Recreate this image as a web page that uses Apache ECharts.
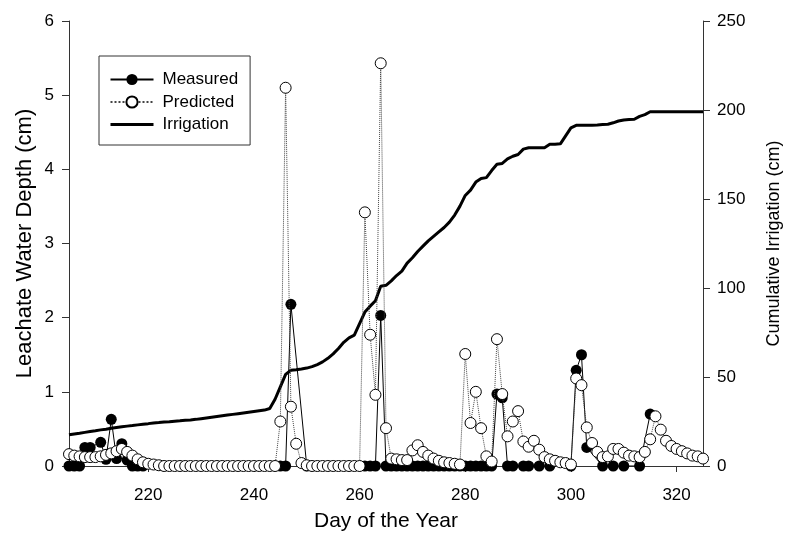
<!DOCTYPE html>
<html>
<head>
<meta charset="utf-8">
<script src="https://cdn.jsdelivr.net/npm/echarts@6/dist/echarts.min.js"></script>
<style>
  html, body { margin: 0; padding: 0; background: #fff; }
  #chart { width: 785px; height: 540px; }
</style>
</head>
<body>
<div id="chart"></div>
<script>
// first day of the daily series (day of the year)
let startDay = 205;

// predicted leachate depth (cm), one value per day from 205 to 325
let predicted = [
    0.16, 0.14, 0.13, 0.12, 0.12, 0.12, 0.13, 0.15, 0.17, 0.20,
    0.23, 0.19, 0.14, 0.09, 0.05, 0.03, 0.02, 0.01, 0, 0,
    0, 0, 0, 0, 0, 0, 0, 0, 0, 0,
    0, 0, 0, 0, 0, 0, 0, 0, 0, 0,
    0.60, 5.10, 0.80, 0.30, 0.04, 0.01, 0, 0, 0, 0,
    0, 0, 0, 0, 0, 0, 3.42, 1.77, 0.96, 5.43,
    0.51, 0.10, 0.09, 0.08, 0.08, 0.21, 0.28, 0.19, 0.14, 0.10,
    0.07, 0.05, 0.04, 0.03, 0.02, 1.51, 0.58, 1.00, 0.51, 0.13,
    0.06, 1.71, 0.97, 0.40, 0.60, 0.74, 0.33, 0.26, 0.34, 0.22,
    0.12, 0.09, 0.07, 0.05, 0.04, 0.02, 1.18, 1.09, 0.52, 0.31,
    0.19, 0.12, 0.13, 0.23, 0.23, 0.18, 0.14, 0.13, 0.12, 0.19,
    0.36, 0.67, 0.49, 0.34, 0.27, 0.23, 0.20, 0.17, 0.14, 0.13,
    0.10
];

// cumulative irrigation (cm), one value per day from 205 to 325
let irrigation = [
    17.5, 18.0, 18.4, 18.9, 19.4, 19.8, 20.3, 20.7, 21.2, 21.6,
    22.0, 22.4, 22.7, 23.1, 23.5, 23.8, 24.2, 24.4, 24.7, 24.9,
    25.2, 25.4, 25.7, 25.9, 26.2, 26.6, 27.0, 27.4, 27.8, 28.2,
    28.6, 29.0, 29.4, 29.8, 30.2, 30.6, 31.0, 31.4, 32.3, 37.5,
    44.5, 51.5, 53.8, 54.1, 54.5, 55.0, 55.8, 57.0, 58.5, 60.5,
    63.0, 66.0, 69.5, 72.0, 73.5, 80.0, 86.5, 89.8, 92.8, 101.0,
    101.5, 104.0, 107.0, 109.5, 114.0, 117.0, 120.5, 123.5, 126.5, 129.0,
    131.5, 134.0, 137.0, 141.0, 146.0, 152.0, 155.0, 159.5, 161.5, 162.0,
    166.0, 169.5, 170.0, 172.5, 174.0, 175.0, 178.0, 178.8, 178.8, 178.8,
    178.8, 180.7, 180.7, 181.0, 185.5, 190.0, 191.4, 191.5, 191.5, 191.5,
    191.6, 191.8, 192.0, 192.8, 193.8, 194.4, 194.6, 194.8, 196.4, 197.4,
    199, 199, 199, 199, 199, 199, 199, 199, 199, 199,
    199
];

// measured leachate depth, sampled on these days only
let measuredDays = [
    205, 206, 207, 208, 209, 211, 212, 213, 214, 215, 216, 217, 218, 219,
    245, 246, 247, 250,
    261, 262, 263, 264, 265, 266, 267, 268, 269, 270, 271, 272, 273, 274,
    275, 276, 277, 278, 279, 280, 281, 282, 283, 284, 285, 286, 287, 288,
    289, 291, 292, 294, 296, 300, 301, 302, 303, 306, 308, 310, 313, 315
];
let measuredValues = [
    0, 0, 0, 0.25, 0.25, 0.32, 0.09, 0.63, 0.10, 0.30, 0.08, 0, 0, 0,
    0, 0, 2.18, 0,
    0, 0, 0, 2.03, 0, 0, 0, 0, 0, 0, 0, 0, 0, 0,
    0, 0, 0, 0, 0, 0, 0, 0, 0, 0, 0, 0.97, 0.92, 0,
    0, 0, 0, 0, 0, 0, 1.29, 1.50, 0.25, 0, 0, 0, 0, 0.70
];

// x axis tick labels
let dayTicks = [220, 240, 260, 280, 300, 320];

let font = 'Liberation Sans, Arial, sans-serif';

function pairs(xs, ys){
    let out = [];
    for(let i = 0;i<ys.length;i++){
        out.push([xs[i], ys[i]]);
    }
    return out;
}

let days = [];
for(let i = 0;i<predicted.length;i++){
    days.push(startDay + i);
}

let myChart = echarts.init(document.getElementById('chart'));

let option = {
    animation: false,
    backgroundColor: '#fff',
    textStyle: { fontFamily: font, color: '#000' },
    grid: { left: 69, right: 82, top: 21, bottom: 74, containLabel: false, outerBoundsMode: 'none' },
    legend: {
        orient: 'vertical',
        left: 99,
        top: 56,
        padding: [15, 12, 12, 10],
        itemWidth: 43,
        itemHeight: 14,
        itemGap: 5.5,
        borderColor: '#333',
        borderWidth: 1,
        textStyle: { fontFamily: font, fontSize: 17, color: '#000', padding: [0, 0, 0, 4] },
        data: [
            'Measured',
            'Predicted',
            { name: 'Irrigation', itemStyle: { opacity: 0 }, lineStyle: { width: 3 } }
        ]
    },
    xAxis: {
        type: 'value',
        min: 205,
        max: 325,
        name: 'Day of the Year',
        nameLocation: 'middle',
        nameGap: 45,
        nameTextStyle: { fontFamily: font, fontSize: 21, color: '#000' },
        axisLine: { lineStyle: { color: '#333', width: 1 } },
        axisTick: { customValues: dayTicks, length: 6, lineStyle: { color: '#333' } },
        axisLabel: { customValues: dayTicks, fontSize: 17, color: '#000', margin: 21 },
        splitLine: { show: false }
    },
    yAxis: [{
        type: 'value',
        min: 0,
        max: 6,
        interval: 1,
        position: 'left',
        name: 'Leachate Water Depth (cm)',
        nameLocation: 'middle',
        nameRotate: 90,
        nameGap: 33,
        nameMoveOverlap: false,
        nameTextStyle: { fontFamily: font, fontSize: 22, color: '#000' },
        axisLine: { show: true, lineStyle: { color: '#333', width: 1 } },
        axisTick: { show: true, length: 7, lineStyle: { color: '#333' } },
        axisLabel: { fontSize: 17, color: '#000', margin: 15 },
        splitLine: { show: false }
    },{
        type: 'value',
        min: 0,
        max: 250,
        interval: 50,
        position: 'right',
        name: 'Cumulative Irrigation (cm)',
        nameLocation: 'middle',
        nameRotate: 90,
        nameGap: 62,
        nameTextStyle: { fontFamily: font, fontSize: 18, color: '#000' },
        axisLine: { show: true, lineStyle: { color: '#333', width: 1 } },
        axisTick: { show: true, length: 7, lineStyle: { color: '#333' } },
        axisLabel: { fontSize: 17, color: '#000', margin: 14 },
        splitLine: { show: false }
    }],
    series: [{
        name: 'Irrigation',
        type: 'line',
        yAxisIndex: 1,
        symbol: 'none',
        lineStyle: { color: '#000', width: 3 },
        itemStyle: { color: '#000' },
        data: pairs(days, irrigation),
        z: 2
    },{
        name: 'Measured',
        type: 'line',
        yAxisIndex: 0,
        symbol: 'circle',
        symbolSize: 11,
        showAllSymbol: true,
        lineStyle: { color: '#000', width: 1, join: 'miter' },
        itemStyle: { color: '#000' },
        data: pairs(measuredDays, measuredValues),
        z: 3
    },{
        name: 'Predicted',
        type: 'line',
        yAxisIndex: 0,
        symbol: 'circle',
        symbolSize: 11,
        showAllSymbol: true,
        lineStyle: { color: '#444', width: 1, type: 'dotted' },
        itemStyle: { color: '#fff', borderColor: '#000', borderWidth: 1 },
        data: pairs(days, predicted),
        z: 4
    }]
};

myChart.setOption(option);
</script>
</body>
</html>
